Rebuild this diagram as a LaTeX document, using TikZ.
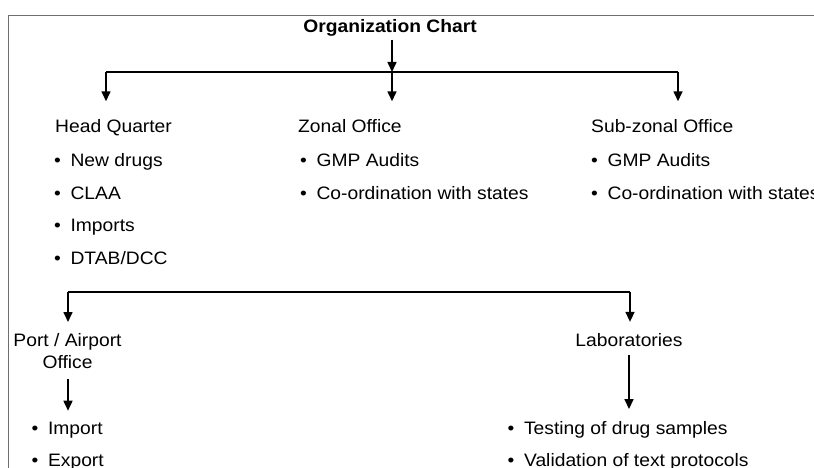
\documentclass[tikz,border=0pt]{standalone}
\usepackage{fontspec}
\setmainfont{Liberation Sans}[FakeStretch=1.07]
\usetikzlibrary{calc}
\usetikzlibrary{arrows.meta}
\tikzstyle{lbl} = [anchor=base west, inner sep=0pt]
\tikzstyle{arr} = [-{Triangle[length=10pt,width=9pt]}, line width=1.6pt]
\tikzstyle{bus} = [line width=1.6pt]
\definecolor{framegray}{RGB}{110,110,110}
\newcommand{\itm}[1]{\makebox[16.4pt][l]{•}#1}

\begin{document}
\begin{tikzpicture}[x=1pt, y=-1pt, font=\fontsize{18}{21.7}\selectfont]
    \useasboundingbox (0,0) rectangle (814,468);
    \draw[framegray, line width=1.3pt] (8.5,468) -- (8.5,15.5) -- (814,15.5);

    \node[inner sep=3pt, font=\fontsize{18}{21.7}\selectfont\bfseries] (title) at (390,28) {Organization Chart};
    \coordinate (busL) at (106,72);
    \coordinate (busM) at (392,72);
    \coordinate (busR) at (678,72);

    \node[lbl] (hq) at (55,133) {Head Quarter};
    \node[lbl] (hq_new) at ($(hq.base west)+(-1,33.5)$) {\itm{New drugs}};
    \node[lbl] (hq_claa) at ($(hq_new.base west)+(0,32.7)$) {\itm{CLAA}};
    \node[lbl] (hq_imp) at ($(hq_claa.base west)+(0,32.7)$) {\itm{Imports}};
    \node[lbl] (hq_dtab) at ($(hq_imp.base west)+(0,32.7)$) {\itm{DTAB/DCC}};

    \node[lbl] (zo) at (298,133) {Zonal Office};
    \node[lbl] (zo_gmp) at ($(zo.base west)+(2,33.5)$) {\itm{GMP Audits}};
    \node[lbl] (zo_coord) at ($(zo_gmp.base west)+(0,32.7)$) {\itm{Co-ordination with states}};

    \node[lbl] (szo) at (591,133) {Sub-zonal Office};
    \node[lbl] (szo_gmp) at ($(szo.base west)+(0,33.5)$) {\itm{GMP Audits}};
    \node[lbl] (szo_coord) at ($(szo_gmp.base west)+(0,32.7)$) {\itm{Co-ordination with states}};

    \draw[arr] (title.south -| busM) -- (busM);
    \draw[bus] (busL) -- (busR);
    \draw[arr, shorten >=18.5pt] (busL) -- (busL |- hq.north);
    \draw[arr, shorten >=18.5pt] (busM) -- (busM |- zo.north);
    \draw[arr, shorten >=18.5pt] (busR) -- (busR |- szo.north);

    % second row
    \coordinate (busPL) at (68,292);
    \coordinate (busPR) at (630,292);
    \node[inner sep=0pt, align=center, anchor=north] (port) at (67.5,333.6) {Port / Airport\\Office};
    \node[lbl] (port_imp) at (31.5,434.3) {\itm{Import}};
    \node[lbl] (port_exp) at ($(port_imp.base west)+(0,31.7)$) {\itm{Export}};

    \node[inner sep=0pt, anchor=base] (lab) at (629,346.7) {Laboratories};
    \node[lbl] (lab_test) at (507.5,434.3) {\itm{Testing of drug samples}};
    \node[lbl] (lab_valid) at ($(lab_test.base west)+(0,31.7)$) {\itm{Validation of text protocols}};

    \draw[bus] (busPL) -- (busPR);
    \draw[arr, shorten >=11.6pt] (busPL) -- (busPL |- port.north);
    \draw[arr, shorten >=11.6pt] (busPR) -- (busPR |- lab.north);
    \draw[arr, shorten <=10pt, shorten >=11pt] (port.south -| busPL) -- (busPL |- port_imp.north);
    \draw[arr, shorten <=7.5pt, shorten >=12pt] (lab.south) -- (lab.south |- lab_test.north);
\end{tikzpicture}
\end{document}
